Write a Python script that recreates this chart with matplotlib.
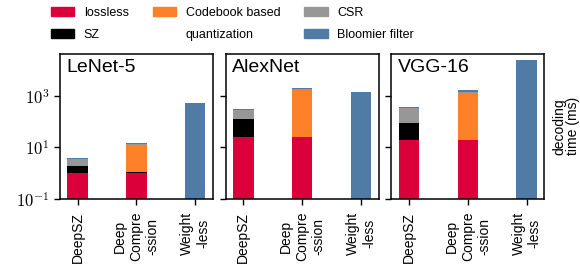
'''Decoding time per compression method, stacked by component (log scale)'''
import matplotlib
matplotlib.use('Agg')
import matplotlib.pyplot as plt
from matplotlib.patches import Patch

plt.rcParams['font.family'] = ['Liberation Sans', 'DejaVu Sans']
plt.rcParams['mathtext.fontset'] = 'cm'

models = ['LeNet-5', 'AlexNet', 'VGG-16']
methods = ['DeepSZ', 'Deep\nCompre\n-ssion', 'Weight\n-less']
ytick_vals = [0.1, 10, 1000]
ytick_labels = [r'$10^{-1}$', r'$10^{1}$', r'$10^{3}$']

# one row per model, one value per method (DeepSZ, Deep Compression, Weightless)
lossless = [[1.0, 0.97, 0], [25, 25, 0], [19, 19, 0]]
sz = [[0.87, 0.08, 0], [100, 0, 0], [72, 0, 0]]
codebook = [[0, 11.3, 0], [0, 1715, 0], [0, 1270, 0]]
csr = [[1.6, 0.7, 0], [157, 90, 0], [250, 120, 0]]
bloomier = [[0.2, 1.0, 540], [17, 170, 1400], [30, 250, 25000]]

segments = [
    ('lossless', lossless, '#db0039'),
    ('SZ', sz, 'black'),
    ('Codebook based', codebook, '#fe8028'),
    ('CSR', csr, '#979797'),
    ('Bloomier filter', bloomier, '#4f7ba4'),
]

fig, axes = plt.subplots(1, 3, figsize=(5.8, 2.66), dpi=100, sharey=True)
fig.subplots_adjust(left=0.1034, right=0.9384, bottom=0.253, top=0.797,
                    wspace=0.085)

x = [0, 1, 2]
for m, ax in enumerate(axes):
    bot = [0, 0, 0]
    for name, values, color in segments:
        vals = values[m]
        ax.bar(x, vals, width=0.35, bottom=bot, color=color,
               edgecolor='none')
        bot = [b + v for b, v in zip(bot, vals)]
    ax.set_yscale('log')
    ax.set_ylim(0.1, 4.2e4)
    ax.set_xlim(-0.3, 2.3)
    ax.set_yticks(ytick_vals)
    ax.set_yticklabels(ytick_labels)
    ax.minorticks_off()
    ax.set_xticks(x)
    ax.set_xticklabels(methods, rotation=90, fontsize=10,
                       ha='center', va='top', multialignment='center')
    ax.tick_params(axis='both', direction='out', length=4, width=1)
    ax.tick_params(axis='x', pad=5.5)
    ax.tick_params(axis='y', labelsize=12)
    for sp in ax.spines.values():
        sp.set_linewidth(1.1)
    ax.text(0.04, 0.965, models[m], transform=ax.transAxes, fontsize=14,
            ha='left', va='top')

# y label sits to the right of the last panel
fig.text(0.976, 0.525, 'decoding\ntime (ms)', fontsize=10, rotation=90,
         ha='center', va='center', linespacing=0.9)

handles = [
    Patch(color='#db0039'), Patch(color='black'),
    Patch(color='#fe8028'), Patch(color='none'),
    Patch(color='#979797'), Patch(color='#4f7ba4'),
]
labels = ['lossless', 'SZ', 'Codebook based', 'quantization',
          'CSR', 'Bloomier filter']
fig.legend(handles, labels, ncol=3, loc='upper left',
           bbox_to_anchor=(0.068, 1.015), frameon=False, fontsize=9,
           handlelength=1.9, handleheight=0.75, handletextpad=0.75,
           columnspacing=1.9, labelspacing=0.8)

fig.savefig('out.png', dpi=100)
